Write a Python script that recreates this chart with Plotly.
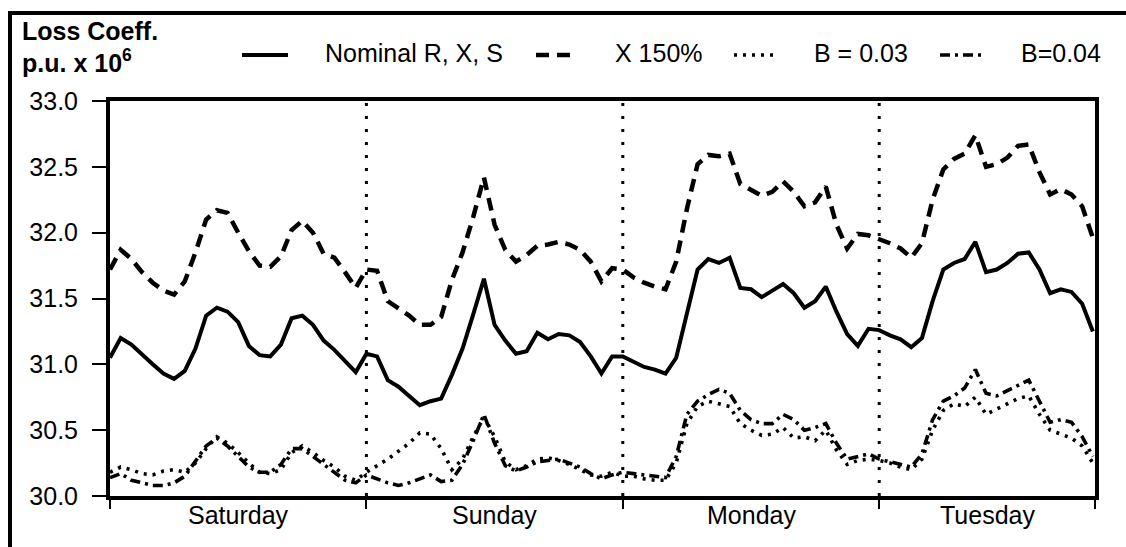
import plotly.graph_objects as go

# Hourly loss coefficients (p.u. x 10^6), Saturday 00:00 through Tuesday 20:00
day_names = ["Saturday", "Sunday", "Monday", "Tuesday"]
hours_per_day = 24
x_end = 92.2
hours = list(range(93))

nominal = [31.05, 31.20, 31.15, 31.07, 31.00, 30.93, 30.89, 30.95, 31.12, 31.37, 31.43, 31.40,
           31.32, 31.14, 31.07, 31.06, 31.15, 31.35, 31.37, 31.30, 31.18, 31.11, 31.02, 30.94,
           31.08, 31.06, 30.88, 30.83, 30.76, 30.69, 30.72, 30.74, 30.92, 31.12, 31.38, 31.65,
           31.30, 31.18, 31.08, 31.10, 31.24, 31.19, 31.23, 31.22, 31.17, 31.06, 30.93, 31.06,
           31.06, 31.02, 30.98, 30.96, 30.93, 31.05, 31.38, 31.72, 31.80, 31.77, 31.81, 31.58,
           31.57, 31.51, 31.56, 31.61, 31.54, 31.43, 31.48, 31.59, 31.40, 31.23, 31.14, 31.27,
           31.26, 31.22, 31.19, 31.13, 31.20, 31.48, 31.72, 31.77, 31.80, 31.93, 31.70, 31.72,
           31.77, 31.84, 31.85, 31.72, 31.54, 31.57, 31.55, 31.46, 31.25]

x150 = [31.72, 31.87, 31.80, 31.70, 31.62, 31.56, 31.53, 31.63, 31.85, 32.10, 32.17, 32.15,
        32.00, 31.86, 31.75, 31.74, 31.82, 32.02, 32.09, 32.00, 31.84, 31.81, 31.70, 31.58,
        31.72, 31.71, 31.48, 31.43, 31.37, 31.30, 31.30, 31.36, 31.64, 31.85, 32.12, 32.42,
        32.06, 31.87, 31.78, 31.83, 31.90, 31.91, 31.93, 31.91, 31.87, 31.78, 31.63, 31.73,
        31.72, 31.66, 31.62, 31.59, 31.57, 31.78, 32.18, 32.52, 32.59, 32.58, 32.60, 32.37,
        32.32, 32.28, 32.31, 32.39, 32.31, 32.20, 32.23, 32.35, 32.06, 31.88, 31.99, 31.98,
        31.95, 31.92, 31.88, 31.81, 31.92, 32.25, 32.48, 32.56, 32.60, 32.74, 32.50, 32.52,
        32.57, 32.66, 32.67, 32.46, 32.29, 32.33, 32.29, 32.20, 31.96]

b003 = [30.18, 30.22, 30.20, 30.17, 30.16, 30.19, 30.20, 30.18, 30.25, 30.36, 30.45, 30.40,
        30.33, 30.25, 30.18, 30.17, 30.20, 30.33, 30.38, 30.33, 30.27, 30.22, 30.15, 30.12,
        30.18, 30.23, 30.28, 30.34, 30.40, 30.48, 30.47, 30.36, 30.20, 30.28, 30.45, 30.60,
        30.45, 30.26, 30.20, 30.23, 30.28, 30.29, 30.27, 30.24, 30.20, 30.16, 30.15, 30.18,
        30.15, 30.15, 30.13, 30.12, 30.12, 30.25, 30.55, 30.68, 30.72, 30.70, 30.68, 30.55,
        30.50, 30.46, 30.47, 30.52, 30.44, 30.45, 30.42, 30.50, 30.35, 30.24, 30.27, 30.28,
        30.27, 30.25, 30.22, 30.20, 30.28, 30.50, 30.65, 30.70, 30.68, 30.75, 30.62, 30.66,
        30.70, 30.74, 30.76, 30.62, 30.50, 30.47, 30.44, 30.38, 30.25]

b004 = [30.14, 30.17, 30.12, 30.10, 30.08, 30.08, 30.10, 30.15, 30.27, 30.38, 30.44, 30.38,
        30.30, 30.22, 30.18, 30.18, 30.24, 30.36, 30.36, 30.30, 30.24, 30.18, 30.12, 30.10,
        30.16, 30.13, 30.10, 30.08, 30.10, 30.13, 30.16, 30.11, 30.12, 30.24, 30.42, 30.62,
        30.40, 30.23, 30.19, 30.22, 30.26, 30.27, 30.28, 30.25, 30.22, 30.17, 30.13, 30.16,
        30.18, 30.17, 30.16, 30.15, 30.14, 30.30, 30.62, 30.72, 30.77, 30.81, 30.78, 30.65,
        30.58, 30.55, 30.55, 30.62, 30.58, 30.50, 30.52, 30.55, 30.40, 30.28, 30.30, 30.32,
        30.28, 30.26, 30.24, 30.22, 30.32, 30.58, 30.72, 30.76, 30.82, 30.96, 30.78, 30.76,
        30.80, 30.84, 30.88, 30.72, 30.56, 30.58, 30.56, 30.45, 30.30]

y_ticks = [30.0, 30.5, 31.0, 31.5, 32.0, 32.5, 33.0]

FONT = "Liberation Sans, Arial, Helvetica, sans-serif"
INK = "black"

series = [
    ("Nominal R, X, S", nominal, dict(width=4, dash="solid")),
    ("X 150%", x150, dict(width=4.5, dash="13px,8px")),
    ("B = 0.03", b003, dict(width=3.6, dash="3px,6px")),
    ("B=0.04", b004, dict(width=3.6, dash="10px,5px,3px,5px")),
]

fig = go.Figure()
for name, vals, style in series:
    fig.add_trace(go.Scatter(x=hours, y=vals, mode="lines", name=name,
                             line=dict(color=INK, **style), showlegend=False))

# figure geometry (pixels)
W, H = 1126, 547
L, R, T, B = 110, 31, 101, 51
PW, PH = W - L - R, H - T - B


def px(xp):
    return (xp - L) / PW


def py(yp):
    return (H - B - yp) / PH


day_starts = [d * hours_per_day for d in range(len(day_names))]
day_edges = day_starts + [x_end]

shapes = []
# dotted separators between days
for xs in day_starts[1:]:
    shapes.append(dict(type="line", xref="x", yref="paper", x0=xs, x1=xs, y0=0, y1=1,
                       line=dict(color=INK, width=3, dash="3px,10px"), layer="below"))

# outer frame (left and top edges)
shapes.append(dict(type="line", xref="paper", yref="paper", x0=px(10), x1=px(10),
                   y0=py(12), y1=py(H + 5), line=dict(color=INK, width=4)))
shapes.append(dict(type="line", xref="paper", yref="paper", x0=px(8), x1=px(W + 5),
                   y0=py(13), y1=py(13), line=dict(color=INK, width=4)))

annotations = []
# day labels centred between the tick marks
for i, name in enumerate(day_names):
    xc = (day_edges[i] + day_edges[i + 1]) / 2
    annotations.append(dict(x=xc, xref="x", y=py(515), yref="paper", text=name,
                            showarrow=False, xanchor="center", yanchor="middle",
                            font=dict(family=FONT, size=25, color=INK)))

# axis title block
annotations.append(dict(x=px(20), y=py(31), xref="paper", yref="paper", text="<b>Loss Coeff.</b>",
                        showarrow=False, xanchor="left", yanchor="middle",
                        font=dict(family=FONT, size=25, color=INK)))
annotations.append(dict(x=px(20), y=py(61), xref="paper", yref="paper",
                        text="<b>p.u. x 10<sup>6</sup></b>",
                        showarrow=False, xanchor="left", yanchor="middle",
                        font=dict(family=FONT, size=25, color=INK)))

# legend row
legend_pos = [(242, 288, 323), (536, 578, 613), (734, 777, 812), (940, 984, 1019)]
legend_y = 55
for (name, _, style), (x0, x1, xt) in zip(series, legend_pos):
    shapes.append(dict(type="line", xref="paper", yref="paper", x0=px(x0), x1=px(x1),
                       y0=py(legend_y), y1=py(legend_y),
                       line=dict(color=INK, width=style["width"], dash=style["dash"])))
    annotations.append(dict(x=px(xt), y=py(legend_y - 2), xref="paper", yref="paper", text=name,
                            showarrow=False, xanchor="left", yanchor="middle",
                            font=dict(family=FONT, size=25, color=INK)))

fig.update_layout(
    width=W, height=H,
    margin=dict(l=L, r=R, t=T, b=B, pad=0),
    paper_bgcolor="white", plot_bgcolor="white",
    shapes=shapes, annotations=annotations,
    showlegend=False,
    font=dict(family=FONT, color=INK),
)
fig.update_xaxes(range=[0, x_end], tickvals=day_edges, showticklabels=False,
                 ticks="outside", ticklen=9, tickwidth=2, tickcolor=INK,
                 showgrid=False, zeroline=False, showline=True, linewidth=4,
                 linecolor=INK, mirror=True)
fig.update_yaxes(range=[30.0, 33.0], tickvals=y_ticks, ticktext=[f"{v:.1f}" for v in y_ticks],
                 ticks="outside", ticklen=14, tickwidth=2, tickcolor=INK,
                 ticklabelstandoff=9,
                 tickfont=dict(family=FONT, size=25, color=INK),
                 showgrid=False, zeroline=False, showline=True, linewidth=4,
                 linecolor=INK, mirror=True)

fig.write_html("out.html")
